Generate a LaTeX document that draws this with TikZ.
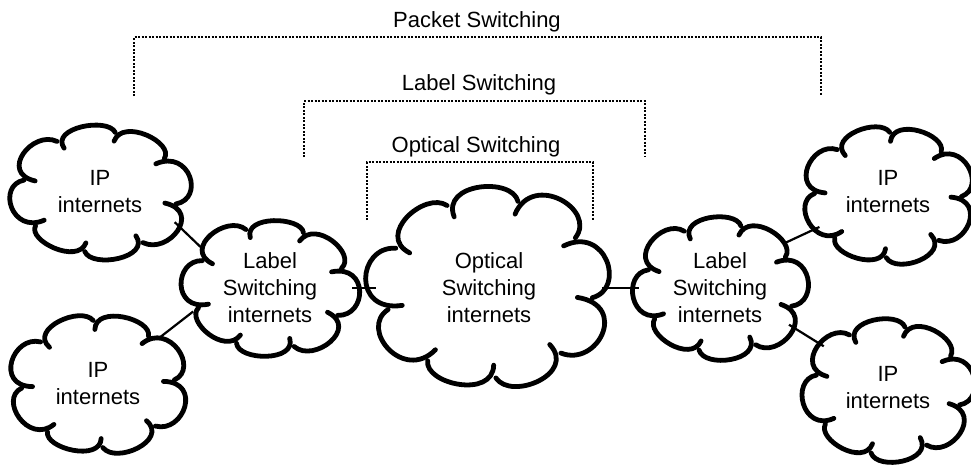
\documentclass[tikz,border=0pt]{standalone}
\usepackage{fontspec}
\setmainfont{Liberation Sans}
\usetikzlibrary{shapes.geometric}
\tikzset{
 puffline/.style={line width=4.8pt, line cap=round, line join=round},
 cloudnode/.style={ellipse, draw=none, inner sep=0pt, outer sep=0pt, align=center, font=\fontsize{22}{27}\selectfont},
 link/.style={line width=2.2pt},
 bracketline/.style={line width=2pt, dash pattern=on 2pt off 1.5pt},
 titletext/.style={font=\fontsize{22}{27}\selectfont, anchor=base, inner sep=0pt}
}
% cx, cy, rx, ry, number of puffs, start angle
\newcommand{\cloudpuffs}[6]{%
 \foreach \k in {1,...,#5}{%
  \pgfmathsetmacro{\pfS}{360/#5}%
  \pgfmathsetmacro{\pfA}{#6+(\k-1)*\pfS}%
  \pgfmathsetmacro{\pfB}{\pfA+\pfS}%
  \pgfmathsetmacro{\pfC}{1.27+0.07*sin(\k*97+#6)}%
  \draw[puffline] ({#1+0.84*#3*cos(\pfA+0.05*\pfS)},{#2+0.84*#4*sin(\pfA+0.05*\pfS)})
   .. controls ({#1+\pfC*#3*cos(\pfA+0.08*\pfS)},{#2+\pfC*#4*sin(\pfA+0.08*\pfS)})
   and ({#1+\pfC*#3*cos(\pfB-0.12*\pfS)},{#2+\pfC*#4*sin(\pfB-0.12*\pfS)})
   .. ({#1+0.98*#3*cos(\pfB+0.03*\pfS)},{#2+0.98*#4*sin(\pfB+0.03*\pfS)});
 }}
\begin{document}
\begin{tikzpicture}[x=1pt,y=-1pt]
\useasboundingbox (0,0) rectangle (971,464);

% brackets and titles
\node[titletext] (pkt) at (477,27) {Packet Switching};
\node[titletext] (lbs) at (479,90) {Label Switching};
\node[titletext] (ops) at (476,152) {Optical Switching};
\draw[bracketline] (134,96) |- (821,37) -- (821,96);
\draw[bracketline] (304,157) |- (645,101) -- (645,157);
\draw[bracketline] (367,220) |- (593,162) -- (593,220);

% clouds
\node[cloudnode, minimum width=168pt, minimum height=132pt] (iptl) at (100,192) {IP\\internets};
\cloudpuffs{100}{192}{79}{62}{8}{10}
\node[cloudnode, minimum width=166pt, minimum height=138pt] (ipbl) at (98,384) {IP\\internets};
\cloudpuffs{98}{384}{78}{65}{8}{-5}
\node[cloudnode, minimum width=164pt, minimum height=134pt] (labl) at (270,288) {Label\\Switching\\internets};
\cloudpuffs{270}{288}{77}{63}{8}{25}
\node[cloudnode, minimum width=226pt, minimum height=196pt] (opt) at (489,288) {Optical\\Switching\\internets};
\cloudpuffs{489}{288}{106}{92}{9}{5}
\node[cloudnode, minimum width=162pt, minimum height=140pt] (labr) at (720,288) {Label\\Switching\\internets};
\cloudpuffs{720}{288}{76}{66}{8}{15}
\node[cloudnode, minimum width=160pt, minimum height=136pt] (iptr) at (888,192) {IP\\internets};
\cloudpuffs{888}{195}{75}{64}{8}{0}
\node[cloudnode, minimum width=160pt, minimum height=140pt] (ipbr) at (888,388) {IP\\internets};
\cloudpuffs{888}{390}{75}{66}{8}{12}

% connectors
\draw[link] (iptl.-22) -- (labl.150);
\draw[link] (ipbl.37) -- (labl.197);
\draw[link] (labl.0) -- (opt.180);
\draw[link] (opt.0) -- (labr.180);
\draw[link] (labr.35) -- (iptr.207);
\draw[link] (labr.-28) -- (ipbr.147);
\end{tikzpicture}
\end{document}
